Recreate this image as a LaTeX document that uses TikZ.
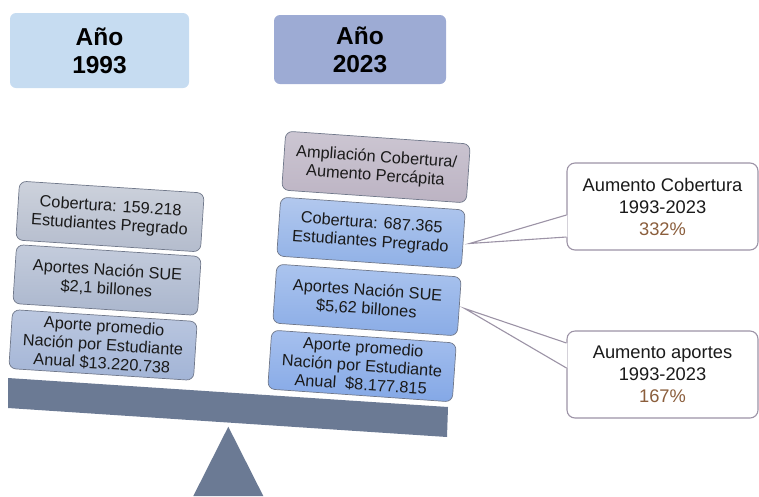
\documentclass[tikz,border=0pt]{standalone}
\usepackage{fontspec}
\setmainfont{Liberation Sans}
\usetikzlibrary{calc}
\definecolor{txt}{HTML}{1A1A1A}
\definecolor{beamc}{HTML}{6B7A94}
\definecolor{calloutc}{HTML}{9C93A6}
\definecolor{brownc}{HTML}{8B5E3C}
\definecolor{yearA}{HTML}{C6DCF1}
\definecolor{yearB}{HTML}{9DABD4}
\definecolor{rimc}{HTML}{70788A}
\definecolor{laT}{HTML}{CDD2DC}\definecolor{laB}{HTML}{B4BCCD}
\definecolor{lbT}{HTML}{C4CCDC}\definecolor{lbB}{HTML}{AAB6CD}
\definecolor{lcT}{HTML}{BCC8E0}\definecolor{lcB}{HTML}{A2B4D6}
\definecolor{raT}{HTML}{CCC6D2}\definecolor{raB}{HTML}{BCB3C3}
\definecolor{rbT}{HTML}{B2C8EE}\definecolor{rbB}{HTML}{8FB0E6}
\definecolor{rcT}{HTML}{ABC4EE}\definecolor{rcB}{HTML}{8AACE6}
\definecolor{rdT}{HTML}{A6C0EE}\definecolor{rdB}{HTML}{84A8E6}
\tikzset{
  yearbox/.style={rounded corners=6pt, minimum width=179pt, minimum height=75pt,
    align=center, font=\fontsize{24.5}{28}\selectfont\bfseries, text=black},
  stackbox/.style={rounded corners=7pt, minimum width=185pt, minimum height=59pt,
    draw=rimc, line width=0.7pt, align=center, inner sep=1pt,
    font=\fontsize{16.3}{18.6}\selectfont, text=txt},
  leftrot/.style={rotate=-3.7},
  rightrot/.style={rotate=-4},
  calloutbox/.style={rounded corners=8pt, minimum width=191pt, minimum height=87pt,
    draw=calloutc, line width=1.1pt, fill=white, align=center,
    font=\fontsize{18.3}{22}\selectfont, text=txt},
  ptr/.style={draw=calloutc, line width=1.1pt, line join=miter}
}
\begin{document}
\begin{tikzpicture}[x=1pt,y=-1pt]
\useasboundingbox (0,0) rectangle (759,496);
% year headers
\node[yearbox, fill=yearA] (y1) at (99.5,50.5) {Año\\1993};
\node[yearbox, fill=yearB, minimum width=172pt, minimum height=69pt] (y2) at (360,49.5) {Año\\2023};
% beam and fulcrum
\fill[beamc] (8,378) -- (448,407) -- (447,437) -- (8,408) -- cycle;
\fill[beamc] (228.3,426.7) -- (263.3,496) -- (193.3,496) -- cycle;
% left stack
\node[stackbox, leftrot, top color=laT, bottom color=laB] (L1) at (110,216.5) {Cobertura: 159.218\\Estudiantes Pregrado};
\node[stackbox, leftrot, top color=lbT, bottom color=lbB] (L2) at (107,280) {Aportes Nación SUE\\\$2,1 billones};
\node[stackbox, leftrot, top color=lcT, bottom color=lcB] (L3) at (103,345) {Aporte promedio\\Nación por Estudiante\\Anual \$13.220.738};
% right stack
\node[stackbox, rightrot, top color=raT, bottom color=raB] (R1) at (376,167) {Ampliación Cobertura/\\Aumento Percápita};
\node[stackbox, rightrot, top color=rbT, bottom color=rbB] (R2) at (371,233) {Cobertura: 687.365\\Estudiantes Pregrado};
\node[stackbox, rightrot, top color=rcT, bottom color=rcB] (R3) at (367,300) {Aportes Nación SUE\\\$5,62 billones};
\node[stackbox, rightrot, top color=rdT, bottom color=rdB] (R4) at (362,366) {Aporte promedio\\Nación por Estudiante\\Anual\ \ \$8.177.815};
% callouts
\node[calloutbox] (C1) at (662.5,206.5) {Aumento Cobertura\\1993-2023\\\textcolor{brownc}{332\%}};
\node[calloutbox] (C2) at (662.5,374.5) {Aumento aportes\\1993-2023\\\textcolor{brownc}{167\%}};
\coordinate (t1) at ($(R2.east)+(6,4)$);
\coordinate (t2) at ($(R3.east)+(5,2)$);
\fill[white] ($(C1.west)+(1,8.5)$) -- (t1) -- ($(C1.west)+(1,30.5)$) -- cycle;
\draw[ptr] ($(C1.west)+(0,8.5)$) -- (t1) -- ($(C1.west)+(0,30.5)$);
\fill[white] ($(C2.west)+(1,-31.5)$) -- (t2) -- ($(C2.west)+(1,-6.5)$) -- cycle;
\draw[ptr] ($(C2.west)+(0,-31.5)$) -- (t2) -- ($(C2.west)+(0,-6.5)$);
\end{tikzpicture}
\end{document}
